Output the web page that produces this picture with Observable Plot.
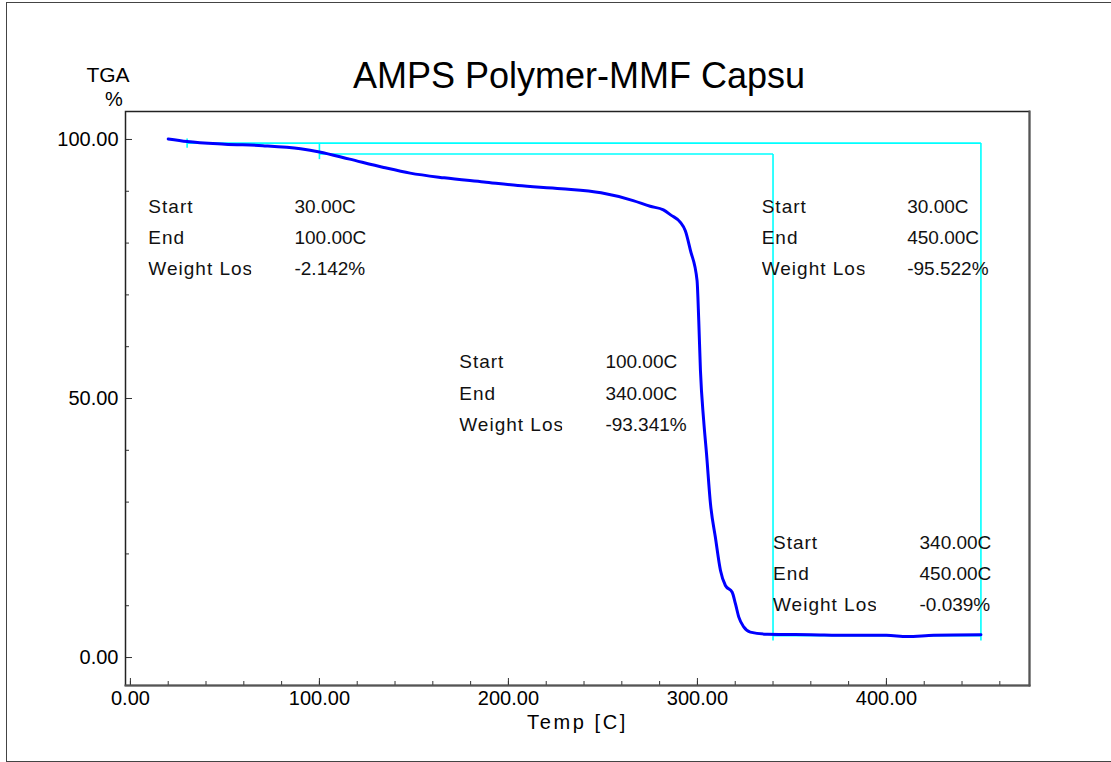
<!DOCTYPE html>
<html>
<head>
<meta charset="utf-8">
<script src="https://cdn.jsdelivr.net/npm/d3@7"></script>
<script src="https://cdn.jsdelivr.net/npm/@observablehq/plot@0.6"></script>
<style>
  body { margin: 0; background: #fff; }
  #wrap { position: relative; width: 1111px; height: 762px; overflow: hidden; background: #fff; }
  #wrap svg { position: absolute; left: 0; top: 0; }
  #border { position: absolute; left: 6px; top: 2px; width: 1120px; height: 760px; border: 1.5px solid #444; box-sizing: border-box; pointer-events: none; }
  text.spaced-label { letter-spacing: 1px; }
  text.spaced-title { letter-spacing: 2.6px; }
</style>
</head>
<body>
<div id="wrap"></div>
<script>
// ---- data ----
const title = "AMPS Polymer-MMF Capsu";
const yUnitTop = "TGA";
const yUnitBottom = "%";
const xLabel = "Temp [C]";

// TGA curve: temperature (C) and weight (%)
const temp = [20, 30, 50, 70, 90, 100, 116, 134, 148, 166, 187, 205, 228, 249, 266, 275, 282, 286, 291, 293.6,
  296.3, 299.8, 300.7, 301.6, 303.3, 304.8, 306.9, 309.5, 312.2, 314.8, 318.4, 320.1, 321.9, 324.5, 328,
  337, 360, 380, 400, 411, 425, 450];
const weight = [100.1, 99.6, 99.1, 98.8, 98.2, 97.6, 96.2, 94.6, 93.5, 92.6, 91.8, 91.1, 90.5, 89.7, 88.2, 87.1, 86.4, 85.4, 84.0, 82.4,
  78.6, 72.8, 65.1, 55.4, 45.8, 39.4, 29.7, 23.2, 16.8, 13.9, 12.6, 10.4, 7.8, 5.9, 4.9,
  4.5, 4.4, 4.3, 4.3, 4.05, 4.3, 4.4];

// step-analysis construction lines (cyan)
const segX1 = [30, 30, 100, 100, 340, 450, 340];
const segY1 = [99.3, 100.2, 99.3, 97.2, 97.2, 99.3, 4.2];
const segX2 = [450, 30, 100, 340, 340, 450, 450];
const segY2 = [99.3, 98.4, 96.2, 97.2, 3.3, 3.3, 4.2];

// step-analysis results
const rowNames = ["Start", "End", "Weight Loss"];
const blockStart = [30, 100, 30, 340];
const blockEnd = [100, 340, 450, 450];
const blockLoss = ["-2.142%", "-93.341%", "-95.522%", "-0.039%"];

// ticks
const xMajor = [0, 100, 200, 300, 400];
const xMinor = d3.range(0, 461, 20);
const yMajor = [0, 50, 100];
const yMinor = d3.range(0, 101, 10);

// ---- layout (annotation anchors in data units) ----
const annLabelX = [9.5, 174, 334, 340];
const annValueX = [86.8, 251.3, 411, 417.5];
const annTopY = [85.9, 55.8, 85.9, 21.0];
const annRowStep = 6.0;

const idx = d3.range(temp.length);
const segIdx = d3.range(segX1.length);
const annRows = [];
blockStart.forEach((s, i) => {
  const vals = [s.toFixed(2) + "C", blockEnd[i].toFixed(2) + "C", blockLoss[i]];
  rowNames.forEach((name, r) => {
    annRows.push({lx: annLabelX[i], vx: annValueX[i], y: annTopY[i] - r * annRowStep, name, val: vals[r]});
  });
});

const fmt2 = d => d.toFixed(2);
const font = "'Liberation Sans', Arial, Helvetica, sans-serif";

const chart = Plot.plot({
  width: 1111,
  height: 762,
  marginLeft: 125,
  marginRight: 82,
  marginTop: 111,
  marginBottom: 77,
  style: {fontFamily: font, background: "transparent", color: "#000"},
  x: {domain: [-2.6, 475.7]},
  y: {domain: [-5.4, 105.4]},
  marks: [
    Plot.link(segIdx, {x1: i => segX1[i], y1: i => segY1[i], x2: i => segX2[i], y2: i => segY2[i], stroke: "#00ffff", strokeWidth: 1.6}),
    Plot.line(idx, {x: i => temp[i], y: i => weight[i], stroke: "#0000ff", strokeWidth: 3, strokeLinejoin: "round", curve: "monotone-x"}),
    Plot.axisX(xMinor, {tickSize: -4, tickFormat: () => "", label: null, stroke: "#333"}),
    Plot.axisX(xMajor, {tickSize: -7, tickPadding: 12, tickFormat: fmt2, fontSize: 20, label: null, stroke: "#333"}),
    Plot.axisY(yMinor, {tickSize: -4, tickFormat: () => "", label: null, stroke: "#333"}),
    Plot.axisY(yMajor, {tickSize: -7, tickPadding: 14, tickFormat: fmt2, fontSize: 20, label: null, stroke: "#333"}),
    Plot.frame({stroke: "#222", strokeWidth: 1.5}),
    Plot.frame({anchor: "right", stroke: "#555", strokeWidth: 2}),
    Plot.frame({anchor: "bottom", stroke: "#555", strokeWidth: 2}),
    Plot.text(annRows, {x: "lx", y: "y", text: "name", textAnchor: "start", lineAnchor: "bottom", fontSize: 19, fill: "#111"}),
    Plot.text(annRows, {x: "vx", y: "y", text: "val", textAnchor: "start", lineAnchor: "bottom", fontSize: 19, fill: "#111"}),
    Plot.text([title], {frameAnchor: "top", dx: 1.5, dy: -24, lineAnchor: "bottom", fontSize: 36, fill: "#000"}),
    Plot.text([yUnitTop], {frameAnchor: "top-left", dx: -17.5, dy: -30, textAnchor: "middle", lineAnchor: "bottom", fontSize: 21, fill: "#000"}),
    Plot.text([yUnitBottom], {frameAnchor: "top-left", dx: -11.6, dy: -6, textAnchor: "middle", lineAnchor: "bottom", fontSize: 20, fill: "#000"}),
    Plot.text([xLabel], {frameAnchor: "bottom", dx: 0, dy: 43, lineAnchor: "bottom", fontSize: 20, fill: "#000"})
  ]
});

const wrap = document.getElementById("wrap");
wrap.appendChild(chart);
const border = document.createElement("div");
border.id = "border";
wrap.appendChild(border);

// letter spacing on labels, and clip "Weight Loss" like the instrument software does
const allTexts = Array.from(chart.querySelectorAll("text"));
const labelNodes = allTexts.filter(t => rowNames.includes(t.textContent));
labelNodes.forEach(t => t.classList.add("spaced-label"));
allTexts.filter(t => t.textContent === xLabel).forEach(t => t.classList.add("spaced-title"));
const ns = "http://www.w3.org/2000/svg";
const defs = document.createElementNS(ns, "defs");
chart.appendChild(defs);
let k = 0;
labelNodes.forEach(t => {
  if (t.textContent === "Weight Loss") {
    const b = t.getBBox();
    const id = "wlclip" + (k++);
    const cp = document.createElementNS(ns, "clipPath");
    cp.setAttribute("id", id);
    cp.setAttribute("clipPathUnits", "userSpaceOnUse");
    const r = document.createElementNS(ns, "rect");
    r.setAttribute("x", b.x);
    r.setAttribute("y", b.y - 3);
    r.setAttribute("width", 103);
    r.setAttribute("height", b.height + 6);
    cp.appendChild(r);
    defs.appendChild(cp);
    t.setAttribute("clip-path", `url(#${id})`);
  }
});
</script>
</body>
</html>
